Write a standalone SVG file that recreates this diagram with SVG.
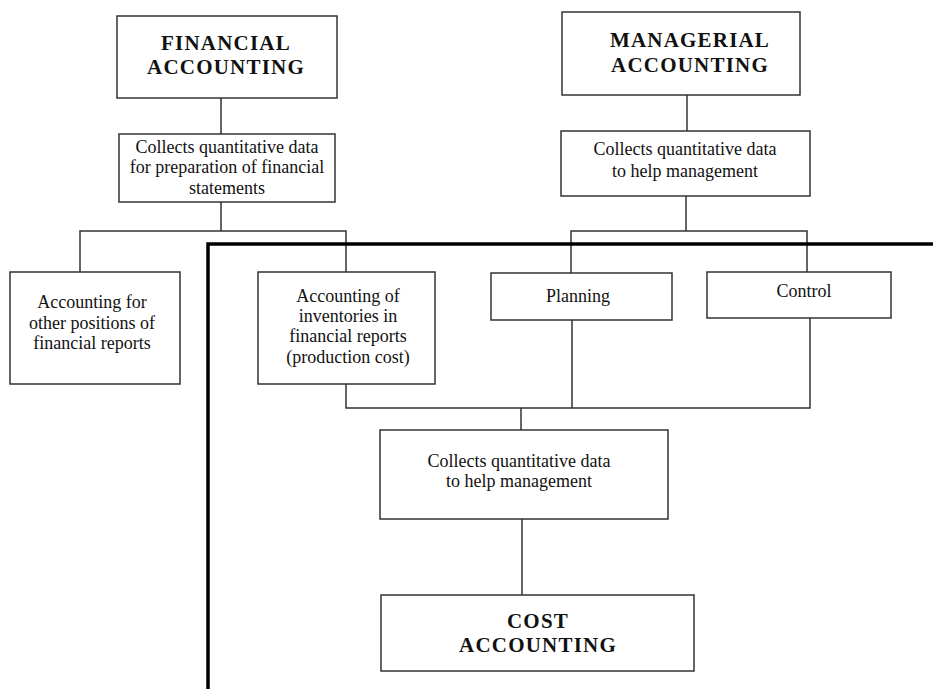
<svg xmlns="http://www.w3.org/2000/svg" width="933" height="689" viewBox="0 0 933 689">
<style>
.box{fill:#fff;stroke:#333;stroke-width:1.5}
.t{font-family:"Liberation Serif","Times New Roman",serif;font-size:18px;fill:#111;text-anchor:middle}
.h{font-family:"Liberation Serif","Times New Roman",serif;font-size:21px;font-weight:bold;letter-spacing:1.2px;fill:#111;text-anchor:middle}
.c{fill:none;stroke:#333;stroke-width:1.5}
.thick{fill:none;stroke:#000;stroke-width:3.5}
</style>
<rect width="933" height="689" fill="#fff"/>
<g id="connectors">
<path class="c" d="M221 98V134"/>
<path class="c" d="M221 202V231M80 272V231H346V272"/>
<path class="c" d="M687 95V131"/>
<path class="c" d="M686 196V231M571 273V231H807V272"/>
<path class="c" d="M346 384V408H810V318M572 320V408"/>
<path class="c" d="M521 408V430"/>
<path class="c" d="M522 519V595"/>
</g>
<g id="boundary"><path class="thick" d="M208 689V244H933"/></g>
<g id="financial">
<rect class="box" x="117" y="16" width="220" height="82"/>
<text class="h" x="226" y="50">FINANCIAL</text>
<text class="h" x="226" y="74">ACCOUNTING</text>
</g>
<g id="fin-collects">
<rect class="box" x="119" y="134" width="216" height="68"/>
<text class="t" x="227" y="153">Collects quantitative data</text>
<text class="t" x="227" y="173">for preparation of financial</text>
<text class="t" x="227" y="194">statements</text>
</g>
<g id="managerial">
<rect class="box" x="562" y="12" width="238" height="83"/>
<text class="h" x="690" y="47">MANAGERIAL</text>
<text class="h" x="690" y="72">ACCOUNTING</text>
</g>
<g id="man-collects">
<rect class="box" x="561" y="131" width="249" height="65"/>
<text class="t" x="685" y="155">Collects quantitative data</text>
<text class="t" x="685" y="177">to help management</text>
</g>
<g id="other-positions">
<rect class="box" x="10" y="272" width="170" height="112"/>
<text class="t" x="92" y="308">Accounting for</text>
<text class="t" x="92" y="329">other positions of</text>
<text class="t" x="92" y="349">financial reports</text>
</g>
<g id="inventories">
<rect class="box" x="258" y="272" width="177" height="112"/>
<text class="t" x="348" y="302">Accounting of</text>
<text class="t" x="348" y="322">inventories in</text>
<text class="t" x="348" y="342">financial reports</text>
<text class="t" x="348" y="363">(production cost)</text>
</g>
<g id="planning">
<rect class="box" x="491" y="273" width="181" height="47"/>
<text class="t" x="578" y="302">Planning</text>
</g>
<g id="control">
<rect class="box" x="707" y="272" width="184" height="46"/>
<text class="t" x="804" y="297">Control</text>
</g>
<g id="cost-collects">
<rect class="box" x="380" y="430" width="288" height="89"/>
<text class="t" x="519" y="467">Collects quantitative data</text>
<text class="t" x="519" y="487">to help management</text>
</g>
<g id="cost-accounting">
<rect class="box" x="381" y="595" width="313" height="76"/>
<text class="h" x="538" y="628">COST</text>
<text class="h" x="538" y="652">ACCOUNTING</text>
</g>
</svg>
